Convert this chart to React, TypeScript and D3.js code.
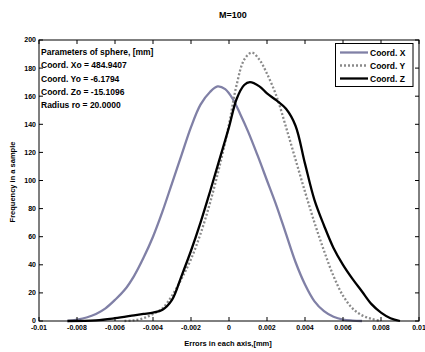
import React from "react";
import * as d3 from "d3";

// error grid (mm) and frequencies
const xsX = [-0.0085, -0.008, -0.0075, -0.007, -0.0065, -0.006, -0.0055, -0.005, -0.0045, -0.004, -0.0035, -0.003, -0.0025, -0.002, -0.0015, -0.001, -0.0006, -0.0002, 0.0002, 0.0006, 0.001, 0.0015, 0.002, 0.0025, 0.003, 0.0035, 0.004, 0.0045, 0.005, 0.0055, 0.006, 0.0065, 0.007];
const coordX = [0, 1, 2.5, 5, 9, 15, 22, 32, 45, 60, 78, 98, 118, 138, 154, 163, 167, 165, 158, 147, 135, 118, 100, 82, 62, 42, 26, 14, 7, 3, 1, 0.3, 0];

const xsY = [-0.0055, -0.005, -0.0045, -0.004, -0.0035, -0.003, -0.0025, -0.002, -0.0015, -0.001, -0.0005, 0, 0.0004, 0.0008, 0.0012, 0.0016, 0.002, 0.0025, 0.003, 0.0035, 0.004, 0.0045, 0.005, 0.0055, 0.006, 0.0065, 0.007, 0.0075, 0.008];
const coordY = [0, 0.5, 2, 5, 9, 18, 30, 44, 62, 84, 110, 140, 168, 186, 191, 186, 176, 160, 138, 115, 92, 70, 50, 32, 18, 9, 4, 1.5, 0];

const xsZ = [-0.0085, -0.007, -0.006, -0.005, -0.0045, -0.004, -0.0035, -0.003, -0.0025, -0.002, -0.0015, -0.001, -0.0005, 0, 0.0004, 0.0008, 0.0011, 0.0016, 0.002, 0.0025, 0.003, 0.0035, 0.004, 0.0045, 0.005, 0.0055, 0.006, 0.0065, 0.007, 0.0075, 0.008, 0.0085, 0.009];
const coordZ = [0, 0.5, 2, 4, 5, 6, 8, 15, 32, 50, 70, 92, 115, 138, 158, 168, 170, 167, 162, 157, 151, 139, 112, 86, 68, 52, 40, 30, 21, 12, 6, 2, 0];

const xTicks = [-0.01, -0.008, -0.006, -0.004, -0.002, 0, 0.002, 0.004, 0.006, 0.008, 0.01];
const yTicks = [0, 20, 40, 60, 80, 100, 120, 140, 160, 180, 200];

const paramLines = [
  "Parameters of sphere, [mm]",
  "Coord. Xo = 484.9407",
  "Coord. Yo = -6.1794",
  "Coord. Zo = -15.1096",
  "Radius ro = 20.0000",
];

const series = [
  { name: "Coord. X", xs: xsX, ys: coordX, color: "#8080a6", width: 2.3, dash: undefined as string | undefined },
  { name: "Coord. Y", xs: xsY, ys: coordY, color: "#8a8a8a", width: 2.3, dash: "2,2" },
  { name: "Coord. Z", xs: xsZ, ys: coordZ, color: "#000000", width: 2.3, dash: undefined as string | undefined },
];

const FONT = "'Liberation Sans', Arial, sans-serif";

export default function App() {
  const left = 39, right = 419, top = 40, bottom = 321;
  const x = d3.scaleLinear().domain([-0.01, 0.01]).range([left, right]);
  const y = d3.scaleLinear().domain([0, 200]).range([bottom, top]);

  const fmtX = (v: number) => String(+v.toFixed(3));
  const tl = 4;

  return (
    <svg width={425} height={352} style={{ position: "absolute", left: 0, top: 0, background: "#fff" }} fontFamily={FONT}>
      {/* title */}
      <text x={233} y={18} textAnchor="middle" fontSize={9} fontWeight="bold">M=100</text>

      {/* curves */}
      {series.map((s) => {
        const line = d3
          .line<number>()
          .x((_, i) => x(s.xs[i]))
          .y((v) => y(v))
          .curve(d3.curveCatmullRom.alpha(0.5));
        return (
          <path key={s.name} d={line(s.ys) || ""} fill="none" stroke={s.color} strokeWidth={s.width} strokeDasharray={s.dash} strokeLinejoin="round" />
        );
      })}

      {/* axes box */}
      <rect x={left} y={top} width={right - left} height={bottom - top} fill="none" stroke="#000" strokeWidth={1} />
      {xTicks.map((t) => (
        <g key={"x" + t}>
          <line x1={x(t)} x2={x(t)} y1={bottom} y2={bottom - tl} stroke="#000" />
          <line x1={x(t)} x2={x(t)} y1={top} y2={top + tl} stroke="#000" />
          <text x={x(t)} y={bottom + 9} textAnchor="middle" fontSize={7} fontWeight="bold">{fmtX(t)}</text>
        </g>
      ))}
      {yTicks.map((t) => (
        <g key={"y" + t}>
          <line x1={left} x2={left + tl} y1={y(t)} y2={y(t)} stroke="#000" />
          <line x1={right} x2={right - tl} y1={y(t)} y2={y(t)} stroke="#000" />
          <text x={left - 3} y={y(t) + 2.4} textAnchor="end" fontSize={7} fontWeight="bold">{t}</text>
        </g>
      ))}

      {/* axis labels */}
      <text x={228} y={346} textAnchor="middle" fontSize={7.5} fontWeight="bold">Errors in each axis,[mm]</text>
      <text transform={`translate(15,182) rotate(-90)`} textAnchor="middle" fontSize={7.5} fontWeight="bold">Frequency in a sample</text>

      {/* parameters text */}
      {paramLines.map((t, i) => (
        <text key={t} x={41} y={55 + i * 13.3} fontSize={8.5} fontWeight="bold">{t}</text>
      ))}

      {/* legend */}
      <rect x={335.5} y={43.5} width={77.5} height={43} fill="#fff" stroke="#000" strokeWidth={1} />
      {series.map((s, i) => (
        <g key={"lg" + s.name}>
          <line x1={340} x2={368} y1={52.5 + i * 13} y2={52.5 + i * 13} stroke={s.color} strokeWidth={s.width} strokeDasharray={s.dash} />
          <text x={370} y={55.5 + i * 13} fontSize={8.5} fontWeight="bold">{s.name}</text>
        </g>
      ))}
    </svg>
  );
}
